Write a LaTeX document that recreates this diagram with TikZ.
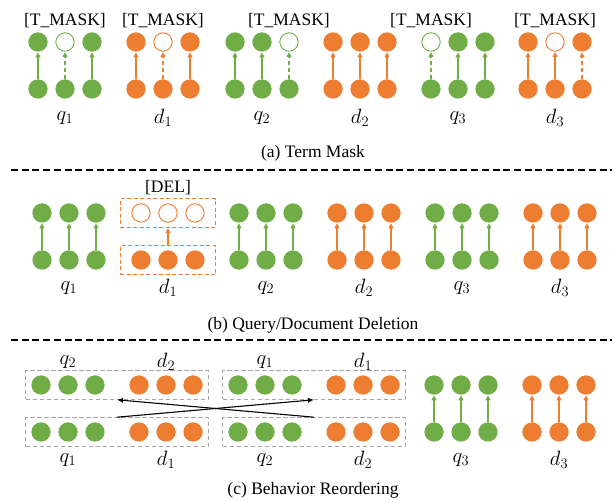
\documentclass[tikz,border=0pt]{standalone}
\usepackage{fontspec}
\setmainfont{Liberation Serif}
\usepackage{tikz}
\usetikzlibrary{arrows.meta,positioning,fit}
\definecolor{QryGreen}{RGB}{112,173,71}
\definecolor{DocOrange}{RGB}{237,125,49}
\definecolor{BoxGray}{RGB}{165,165,165}

\begin{document}
\begin{tikzpicture}[x=1pt,y=1pt,
  dot/.style={circle,fill=#1,minimum size=19.3pt,inner sep=0pt},
  ring/.style={circle,draw=#1,line width=0.9pt,fill=white,minimum size=18.4pt,inner sep=0pt},
  arr/.style={-{Triangle[length=5pt,width=5pt]},draw=#1,line width=1.1pt,shorten >=0.5pt},
  darr/.style={arr=#1,dash pattern=on 4pt off 3pt},
  lbl/.style={font=\fontsize{17.5}{20}\selectfont,inner sep=0pt},
  mlbl/.style={font=\fontsize{21.5}{24}\selectfont,inner sep=0pt},
  captxt/.style={font=\fontsize{17.5}{20}\selectfont,inner sep=0pt},
  sep/.style={line width=1.1pt,dash pattern=on 7pt off 3.7pt},
  obox/.style={draw=DocOrange,line width=0.9pt,dash pattern=on 4pt off 2.5pt,inner xsep=11pt,inner ysep=4.5pt},
  gbox/.style={draw=BoxGray,line width=0.9pt,dash pattern=on 4.5pt off 2.5pt,inner xsep=5.5pt,inner ysep=4.5pt},
  xarr/.style={-{Latex[length=6pt,width=5pt]},line width=1.1pt},
]
\useasboundingbox (0,0) rectangle (615,502);

% (a) term mask
\foreach \cx/\col/\hole/\dsh/\lab [count=\g] in
  {65/QryGreen/2/2/q_1, 163/DocOrange/2/2/d_1, 262/QryGreen/3/3/q_2,
   360/DocOrange/0/0/d_2, 458/QryGreen/1/1/q_3, 555/DocOrange/2/3/d_3}{
  \foreach \i in {1,2,3}{
    \node[dot=\col] (ab\g\i) at ({\cx+(\i-2)*27},413) {};
    \ifnum\i=\hole
      \node[ring=\col] (at\g\i) at ({\cx+(\i-2)*27},460) {};
    \else
      \node[dot=\col] (at\g\i) at ({\cx+(\i-2)*27},460) {};
    \fi
    \ifnum\i=\dsh
      \draw[darr=\col] (ab\g\i) -- (at\g\i);
    \else
      \draw[arr=\col] (ab\g\i) -- (at\g\i);
    \fi
  }
  \ifnum\hole>0
    \node[lbl] (am\g) at ({\cx+(\hole-2)*27},481) {[T\_MASK]};
  \fi
  \node[mlbl] (al\g) at (\cx,384) {$\lab$};
}
\node[captxt] (capa) at (313,349) {(a) Term Mask};
\coordinate (s1l) at (11,332);
\coordinate (s1r) at (612,332);
\draw[sep] (s1l) -- (s1r);

% (b) query/document deletion
\foreach \cx/\col/\lab [count=\g] in
  {69/QryGreen/q_1, 168/DocOrange/d_1, 266/QryGreen/q_2,
   364/DocOrange/d_2, 462/QryGreen/q_3, 560/DocOrange/d_3}{
  \foreach \i in {1,2,3}{
    \node[dot=\col] (bb\g\i) at ({\cx+(\i-2)*27},242) {};
    \ifnum\g=2
      \node[ring=\col] (bt\g\i) at ({\cx+(\i-2)*27},289) {};
    \else
      \node[dot=\col] (bt\g\i) at ({\cx+(\i-2)*27},289) {};
      \draw[arr=\col] (bb\g\i) -- (bt\g\i);
    \fi
  }
  \node[mlbl] (bl\g) at (\cx,214) {$\lab$};
}
\node[obox,fit=(bt21)(bt23)] (delt) {};
\node[obox,fit=(bb21)(bb23)] (delb) {};
\draw[arr=DocOrange] (delb) -- (delt);
\node[lbl] (del) at (168,314) {[DEL]};
\node[captxt] (capb) at (313,177) {(b) Query/Document Deletion};
\coordinate (s2l) at (11,162);
\coordinate (s2r) at (612,162);
\draw[sep] (s2l) -- (s2r);

% (c) behavior reordering
\foreach \cx/\col/\top/\bot [count=\g] in
  {68/QryGreen/q_2/q_1, 166/DocOrange/d_2/d_1, 265/QryGreen/q_1/q_2,
   363/DocOrange/d_1/d_2}{
  \foreach \i in {1,2,3}{
    \node[dot=\col] (ct\g\i) at ({\cx+(\i-2)*27},117) {};
    \node[dot=\col] (cb\g\i) at ({\cx+(\i-2)*27},70) {};
  }
  \node[mlbl] (ctl\g) at (\cx,140) {$\top$};
  \node[mlbl] (cbl\g) at (\cx,42) {$\bot$};
}
\foreach \cx/\col/\lab [count=\g from 5] in
  {461/QryGreen/q_3, 559/DocOrange/d_3}{
  \foreach \i in {1,2,3}{
    \node[dot=\col] (cb\g\i) at ({\cx+(\i-2)*27},70) {};
    \node[dot=\col] (ct\g\i) at ({\cx+(\i-2)*27},117) {};
    \draw[arr=\col] (cb\g\i) -- (ct\g\i);
  }
  \node[mlbl] (cbl\g) at (\cx,42) {$\lab$};
}
\node[gbox,fit=(ct11)(ct23)] (tl) {};
\node[gbox,fit=(ct31)(ct43)] (tr) {};
\node[gbox,fit=(cb11)(cb23)] (bl) {};
\node[gbox,fit=(cb31)(cb43)] (br) {};
\draw[xarr] (bl.north) -- (tr.south);
\draw[xarr] (br.north) -- (tl.south);
\node[captxt] (capc) at (313,12) {(c) Behavior Reordering};
\end{tikzpicture}
\end{document}
